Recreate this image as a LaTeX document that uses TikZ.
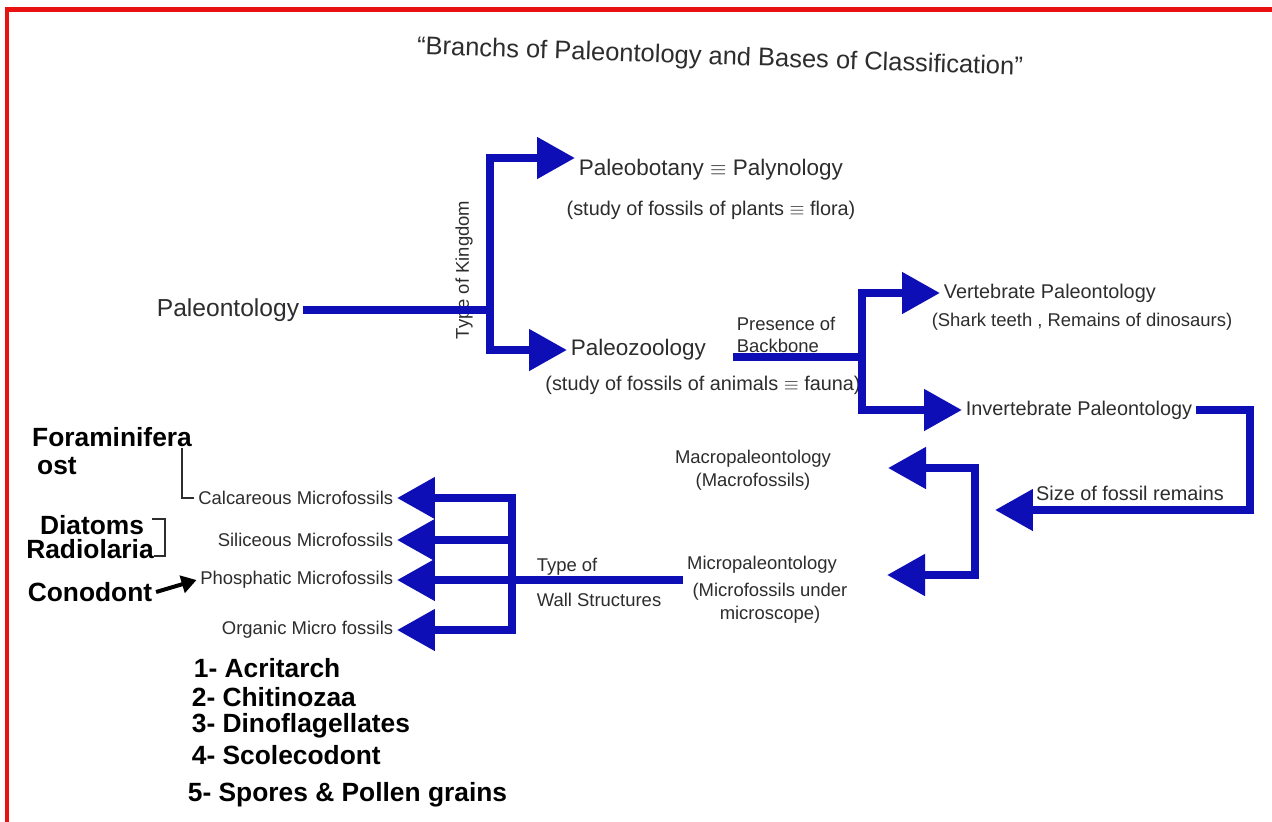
\documentclass[tikz,border=0pt]{standalone}
\usepackage{fontspec}
\setmainfont{Liberation Sans}
\usetikzlibrary{arrows.meta}
\definecolor{penblue}{RGB}{14,14,182}
\definecolor{ink}{RGB}{45,45,45}
\definecolor{frame}{RGB}{232,18,18}

\begin{document}
\begin{tikzpicture}[x=0.02cm, y=-0.02cm,
  every node/.style={text=ink, inner sep=2pt},
  wire/.style={draw=penblue, line width=0.16cm},
  arr/.style={wire, -{Triangle[length=0.76cm 0 0, width=0.8cm 0 0]}},
  big/.style={font=\fontsize{12.8}{15}\selectfont},
  mid/.style={font=\fontsize{11.3}{14}\selectfont},
  small/.style={font=\fontsize{10.5}{13}\selectfont},
  marker/.style={text=black, font=\fontsize{15}{18}\selectfont\bfseries}]

\useasboundingbox (0, 0) rectangle (1272, 822);
\fill[white] (0, 0) rectangle (1272, 822);
\draw[frame, line width=0.1cm] (7, 822) -- (7, 9) -- (1272, 9);

\node (title) at (720, 58) [font=\fontsize{14.5}{17}\selectfont, rotate=-2] {``Branchs of Paleontology and Bases of Classification''};

\node (paleo) at (228, 310) [font=\fontsize{14}{17}\selectfont] {Paleontology};
\coordinate (k0) at (490, 310);
\coordinate (kA) at (490, 158);

\node (bot) at (575, 170) [big, anchor=west] {Paleobotany $\equiv$ Palynology};
\node (botnote) at (711, 210) [mid] {(study of fossils of plants $\equiv$ flora)};
\node (zoo) at (567, 350) [big, anchor=west] {Paleozoology};
\node (zoonote) at (703, 385) [mid] {(study of fossils of animals $\equiv$ fauna)};
\node (kingdom) at (464, 270) [small, rotate=90] {Type of Kingdom};

\draw[wire] (paleo) to (k0);
\draw[arr] (k0) |- (kA -| bot.west);
\draw[arr] (k0) |- (zoo.west);

\node (backbone) at (733, 357) [small, anchor=south west, align=left] {Presence of\\Backbone};
\coordinate (k2) at (862, 357);
\node (vert) at (940, 293) [mid, anchor=west] {Vertebrate Paleontology};
\node (vertnote) at (1082, 322) [small] {(Shark teeth , Remains of dinosaurs)};
\node (invert) at (962, 410) [mid, anchor=west] {Invertebrate Paleontology};

\draw[wire] (backbone.south west) to (k2);
\draw[arr] (k2) |- (vert.west);
\draw[arr] (k2) |- (invert.west);

\node (size) at (1130, 493) [mid] {Size of fossil remains};
\coordinate (bend) at (1250, 510);
\coordinate (k3) at (975, 510);
\coordinate (mactip) at (888, 468);
\coordinate (mictip) at (887, 575);
\node (macro) at (753, 470) [small, align=center] {Macropaleontology\\(Macrofossils)};
\node (micro) at (762, 565) [small] {Micropaleontology};
\node (micronote) at (770, 603) [small, align=center] {(Microfossils under\\microscope)};

\draw[arr, shorten >=0.4cm] (invert.east) -| (bend) -- (k3);
\draw[arr] (k3) |- (mactip);
\draw[arr] (k3) |- (mictip);

\node (wall) at (533, 582) [small, anchor=west, align=left, font=\fontsize{10.5}{20}\selectfont] {Type of\\Wall Structures};
\coordinate (k4) at (512, 580);
\node (calc) at (397, 498) [small, anchor=east] {Calcareous Microfossils};
\node (sil) at (397, 540) [small, anchor=east] {Siliceous Microfossils};
\node (phos) at (397, 580) [small, anchor=east] {Phosphatic Microfossils};
\node (org) at (397, 630) [small, anchor=east] {Organic Micro fossils};

\draw[wire] (k4 -| micro.west) to (k4);
\draw[arr] (k4) |- (calc.east);
\draw[arr] (k4) |- (sil.east);
\draw[arr] (k4) |- (phos.east);
\draw[arr] (k4) |- (org.east);

\node (foram) at (112, 437) [marker] {Foraminifera};
\node (ost) at (57, 466) [marker] {ost};
\node (diat) at (92, 525) [marker] {Diatoms};
\node (radio) at (90, 549) [marker] {Radiolaria};
\node (cono) at (90, 592) [marker] {Conodont};

\draw[ink, line width=0.04cm] (calc.west) ++(-12, -50) |- (calc.west);
\draw[ink, line width=0.04cm] (152, 519) -| (165, 556) -- (154, 556);
\draw[black, line width=0.08cm, -{Triangle[length=0.3cm 0 0, width=0.35cm 0 0]}] (cono.east) to (phos.west);

\node (acri) at (190, 668) [marker, anchor=west] {1- Acritarch};
\node (chit) at (188, 697) [marker, anchor=west] {2- Chitinozaa};
\node (dino) at (188, 726) [marker, anchor=west] {3- Dinoflagellates};
\node (scol) at (188, 755) [marker, anchor=west] {4- Scolecodont};
\node (spor) at (184, 795) [marker, anchor=west] {5- Spores \& Pollen grains};
\end{tikzpicture}
\end{document}
